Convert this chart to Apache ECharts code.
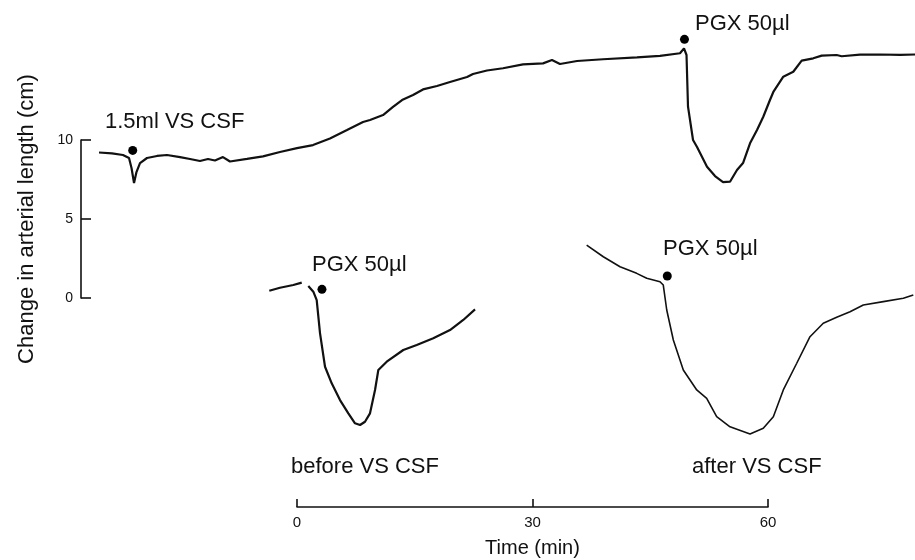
<!DOCTYPE html>
<html><head><meta charset="utf-8">
<script src="https://cdn.jsdelivr.net/npm/echarts@6/dist/echarts.min.js"></script>
<style>html,body{margin:0;padding:0;background:#fff}#c{width:915px;height:560px}</style>
</head><body><div id="c"></div>
<script>
// ---- data (time in min, change in arterial length in cm) ----
const mainTime = [-25.22,-23.57,-22.17,-21.40,-21.08,-20.76,-20.45,-20.0,-19.11,-17.83,-16.56,-14.90,-13.63,-12.36,-11.34,-10.45,-9.43,-8.54,-6.37,-4.33,-2.17,0,2.04,4.20,6.37,8.41,9.30,10.96,12.23,13.38,14.78,16.05,17.83,19.49,21.66,22.42,24.20,26.24,28.79,31.34,32.48,33.50,35.67,38.98,43.31,46.24,48.79,49.30,49.62,49.81,50.45,50.96,52.23,53.25,54.27,55.16,56.05,56.82,57.71,58.60,59.40,60.25,60.68,61.95,63.22,64.29,65.77,66.84,68.75,69.39,71.72,74.27,76.82,78.73];
const mainLength = [9.21,9.15,9.05,8.86,8.23,7.28,7.97,8.54,8.86,8.99,9.05,8.92,8.80,8.67,8.80,8.70,8.92,8.64,8.80,8.96,9.24,9.49,9.68,10.09,10.63,11.14,11.27,11.58,12.09,12.53,12.85,13.20,13.42,13.67,13.99,14.18,14.40,14.54,14.79,14.85,15.06,14.81,15.00,15.11,15.23,15.32,15.49,15.80,15.38,12.11,10.00,9.56,8.31,7.72,7.34,7.36,8.10,8.54,9.79,10.63,11.47,12.53,13.04,14.01,14.32,15.02,15.17,15.34,15.38,15.30,15.40,15.41,15.39,15.41];

const beforeTime = [-3.53,-2.17,-0.47,0.60,1.00,1.44,2.08,2.51,2.93,3.57,4.42,5.48,6.54,7.39,8.03,8.66,9.30,9.94,10.36,11.43,13.54,15.25,17.36,19.49,21.18,22.68];
const beforeLength = [0.46,0.65,0.82,0.97,null,0.76,0.40,-0.13,-2.22,-4.35,-5.40,-6.46,-7.30,-7.93,-8.04,-7.83,-7.30,-5.82,-4.56,-4.03,-3.29,-2.97,-2.55,-2.03,-1.39,-0.72];

const afterTime = [36.90,39.02,41.15,43.27,44.55,46.24,46.66,47.10,47.94,49.21,50.92,52.19,53.46,55.16,57.71,59.40,60.68,61.95,63.66,65.35,67.04,68.75,70.45,72.14,74.69,77.24,78.51];
const afterLength = [3.35,2.61,1.98,1.56,1.25,1.03,0.82,-0.76,-2.66,-4.56,-5.82,-6.35,-7.51,-8.15,-8.61,-8.25,-7.51,-5.82,-4.13,-2.45,-1.60,-1.22,-0.87,-0.44,-0.23,-0.02,0.19];

const dotTime = [-20.93, 49.36, 3.18, 47.17];
const dotLength = [9.34, 16.37, 0.55, 1.39];

const xTicks = [0, 30, 60];
const yTicks = [0, 5, 10];
const xTitle = 'Time (min)';
const yTitle = 'Change in arterial length (cm)';
const annotations = ['1.5ml VS CSF', 'PGX 50µl', 'PGX 50µl', 'PGX 50µl', 'before VS CSF', 'after VS CSF'];

// ---- chart ----
const FONT = '"Liberation Sans", Arial, Helvetica, sans-serif';
const zip = (a, b) => a.map((t, i) => [t, b[i] === null ? '-' : b[i]]);
const chart = echarts.init(document.getElementById('c'), null, {renderer: 'canvas'});
const black = '#111';
const annPos = [[105,122],[695,24],[312,265],[663,249],[291,467],[692,467]];

chart.setOption({
  animation: false,
  backgroundColor: '#fff',
  grid: [
    {left: 77.2, top: 29.4, width: 839.95, height: 442.4, outerBoundsMode: 'none'},
    {left: 81, top: 140, width: 10, height: 158, outerBoundsMode: 'none'},
    {left: 297, top: 480, width: 471, height: 27, outerBoundsMode: 'none'}
  ],
  xAxis: [
    {gridIndex: 0, type: 'value', min: -28, max: 79, show: false},
    {gridIndex: 1, type: 'value', min: 0, max: 1, show: false},
    {gridIndex: 2, type: 'value', min: xTicks[0], max: xTicks[xTicks.length-1], interval: xTicks[1]-xTicks[0],
     axisLine: {show: true, onZero: false, lineStyle: {color: black, width: 1.6}},
     axisTick: {show: true, inside: true, length: 8, lineStyle: {color: black, width: 1.6}},
     axisLabel: {show: true, color: black, fontSize: 15, fontFamily: FONT, margin: 8, showMinLabel: true, showMaxLabel: true},
     splitLine: {show: false},
     name: xTitle, nameLocation: 'middle', nameGap: 31,
     nameTextStyle: {color: black, fontSize: 20, fontFamily: FONT}}
  ],
  yAxis: [
    {gridIndex: 0, type: 'value', min: -11, max: 17, show: false},
    {gridIndex: 1, type: 'value', position: 'left', min: yTicks[0], max: yTicks[yTicks.length-1], interval: yTicks[1]-yTicks[0],
     axisLine: {show: true, onZero: false, lineStyle: {color: black, width: 1.6}},
     axisTick: {show: true, inside: true, length: 10, lineStyle: {color: black, width: 1.6}},
     axisLabel: {show: true, color: black, fontSize: 14, fontFamily: FONT, margin: 8, showMinLabel: true, showMaxLabel: true},
     splitLine: {show: false},
     name: yTitle, nameLocation: 'middle', nameGap: 43, nameRotate: 90,
     nameTextStyle: {color: black, fontSize: 22, fontFamily: FONT}},
    {gridIndex: 2, type: 'value', min: 0, max: 1, show: false}
  ],
  series: [
    {type: 'line', xAxisIndex: 0, yAxisIndex: 0, data: zip(mainTime, mainLength), showSymbol: false, silent: true,
     lineStyle: {color: black, width: 2.2}},
    {type: 'line', xAxisIndex: 0, yAxisIndex: 0, data: zip(beforeTime, beforeLength), showSymbol: false, silent: true, connectNulls: false,
     lineStyle: {color: black, width: 2.2}},
    {type: 'line', xAxisIndex: 0, yAxisIndex: 0, data: zip(afterTime, afterLength), showSymbol: false, silent: true,
     lineStyle: {color: black, width: 1.6}},
    {type: 'scatter', xAxisIndex: 0, yAxisIndex: 0, data: zip(dotTime, dotLength), symbolSize: 9, silent: true,
     itemStyle: {color: '#000', opacity: 1}}
  ],
  graphic: annotations.map((t, i) => ({
    type: 'text', x: annPos[i][0], y: annPos[i][1], silent: true,
    style: {text: t, fill: black, font: '22px ' + FONT, textAlign: 'left', textVerticalAlign: 'middle', verticalAlign: 'middle'}
  }))
});
</script>
</body></html>
